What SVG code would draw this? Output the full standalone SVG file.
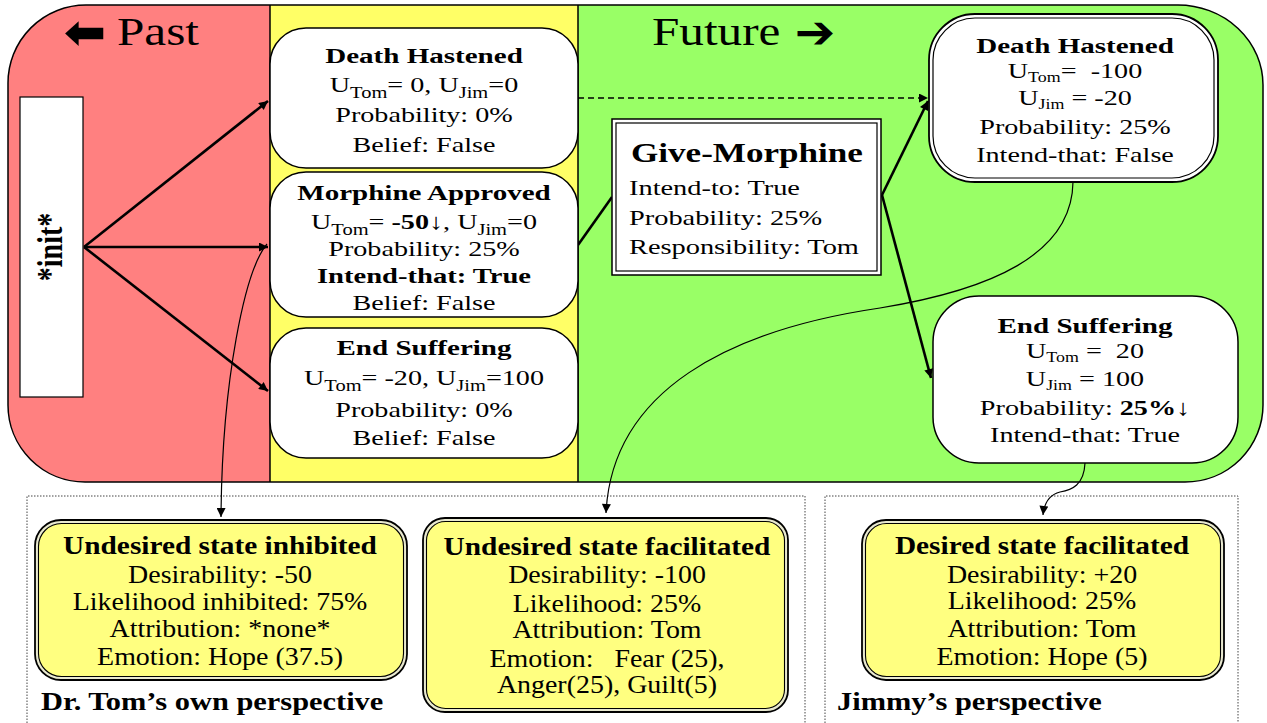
<svg xmlns="http://www.w3.org/2000/svg" width="1267" height="723" viewBox="0 0 1267 723">
<style>
.t{font-family:"Liberation Serif","Times New Roman",serif;font-size:22px;fill:#000;text-anchor:middle;white-space:pre}
.b{font-weight:bold}
.l{text-anchor:start}
.s{font-size:16px}
.s2{font-size:14px}
.e{font-size:24.5px}
.eb{font-size:25.5px;font-weight:bold}
.big{font-size:41px;text-anchor:start}
.arr{font-family:"DejaVu Sans",sans-serif;font-size:46px;font-weight:bold}
.node{fill:#fff;stroke:#000;stroke-width:1.5}
.thick{fill:none;stroke:#000;stroke-width:2.6}
.thin{fill:none;stroke:#000;stroke-width:1.2}
.dot{fill:none;stroke:#444;stroke-width:1;stroke-dasharray:1.5 1.5}
.emo-o{fill:#e9e9d0;stroke:#000;stroke-width:1.8}
.emo-i{fill:#FFFF80;stroke:#000;stroke-width:1.1}
</style>
<defs>
<marker id="ah" viewBox="0 0 10 10" refX="10" refY="5" markerWidth="13" markerHeight="9" markerUnits="userSpaceOnUse" orient="auto"><path d="M0,0 L10,5 L0,10 z" fill="#000"/></marker>
<marker id="as" viewBox="0 0 10 10" refX="10" refY="5" markerWidth="10" markerHeight="9" markerUnits="userSpaceOnUse" orient="auto"><path d="M0,0 L10,5 L0,10 z" fill="#000"/></marker>
</defs>
<rect width="1267" height="723" fill="#fff"/>
<g id="background">
<path d="M86,5 L270,5 L270,482 L85,482 A77,77 0 0 1 8,405 L8,83 A78,78 0 0 1 86,5 Z" fill="#FF8080"/>
<rect x="270" y="5" width="308" height="477" fill="#FFFF66"/>
<path d="M578,5 L1178,5 A85,80 0 0 1 1263,85 L1263,405 A78,77 0 0 1 1185,482 L578,482 Z" fill="#99FF66"/>
<path d="M86,5 L1178,5 A85,80 0 0 1 1263,85 L1263,405 A78,77 0 0 1 1185,482 L85,482 A77,77 0 0 1 8,405 L8,83 A78,78 0 0 1 86,5 Z" fill="none" stroke="#000" stroke-width="1.5"/>
<line x1="270" y1="5" x2="270" y2="482" stroke="#000" stroke-width="1.5"/>
<line x1="578" y1="5" x2="578" y2="482" stroke="#000" stroke-width="1.5"/>
<text class="t arr" transform="translate(85,48) scale(1.1,1)">⬅</text>
<text class="t big" transform="translate(117,45) scale(1.2,1)">Past</text>
<text class="t big" transform="translate(652,45) scale(1.2,1)">Future</text>
<text class="t arr" transform="translate(815,48) scale(1.05,1)">➔</text>
<path class="dot" d="M27,723 L27,496 L805,496 L805,723"/>
<path class="dot" d="M825,723 L825,496 L1238,496 L1238,723"/>
</g>
<g id="init">
<rect x="20" y="97" width="63" height="300" fill="#fff" stroke="#000" stroke-width="1.2"/>
<text class="t b" style="font-size:28px" transform="translate(62,247) scale(1.3,1) rotate(-90)">*init*</text>
</g>
<g id="connectors">
<path class="thick" d="M84,247 L268,101" marker-end="url(#ah)"/>
<path class="thick" d="M84,247 L268,247" marker-end="url(#ah)"/>
<path class="thick" d="M84,247 L268,391" marker-end="url(#ah)"/>
<path class="thick" d="M578,245 L612,197"/>
<path class="thick" d="M882,195 L928,101" marker-end="url(#ah)"/>
<path class="thick" d="M882,195 L931,378" marker-end="url(#ah)"/>
<path d="M578,98 L928,98" fill="none" stroke="#000" stroke-width="1.3" stroke-dasharray="6 4" marker-end="url(#as)"/>
<path class="thin" d="M267,244 C245,270 222,380 221,517" marker-end="url(#as)"/>
<path class="thin" d="M1073,182 C1072,255 990,290 880,308 C730,330 612,390 606,513" marker-end="url(#as)"/>
<path class="thin" d="M1085,463 C1084,485 1072,490 1060,492 C1048,495 1044,505 1043,515" marker-end="url(#as)"/>
</g>
<g id="past-death-hastened">
<rect class="node" x="270" y="28" width="308" height="140" rx="36"/>
<text class="t b" transform="translate(424,63) scale(1.32,1)">Death Hastened</text>
<text class="t" transform="translate(424,92) scale(1.28,1)">U<tspan class="s" dy="6">Tom</tspan><tspan dy="-6">= 0, U</tspan><tspan class="s" dy="6">Jim</tspan><tspan dy="-6">=0</tspan></text>
<text class="t" transform="translate(424,122) scale(1.28,1)">Probability: 0%</text>
<text class="t" transform="translate(424,152) scale(1.28,1)">Belief: False</text>
</g>
<g id="past-morphine-approved">
<rect class="node" x="270" y="172" width="308" height="145" rx="36"/>
<text class="t b" transform="translate(424,200) scale(1.32,1)">Morphine Approved</text>
<text class="t" transform="translate(424,229) scale(1.28,1)">U<tspan class="s" dy="6">Tom</tspan><tspan dy="-6">= </tspan><tspan class="b">-50</tspan>↓, U<tspan class="s" dy="6">Jim</tspan><tspan dy="-6">=0</tspan></text>
<text class="t" transform="translate(424,256) scale(1.28,1)">Probability: 25%</text>
<text class="t b" transform="translate(424,283) scale(1.3,1)">Intend-that: True</text>
<text class="t" transform="translate(424,310) scale(1.28,1)">Belief: False</text>
</g>
<g id="past-end-suffering">
<rect class="node" x="270" y="328" width="308" height="130" rx="36"/>
<text class="t b" transform="translate(424,355) scale(1.32,1)">End Suffering</text>
<text class="t" transform="translate(424,385) scale(1.28,1)">U<tspan class="s" dy="6">Tom</tspan><tspan dy="-6">= -20, U</tspan><tspan class="s" dy="6">Jim</tspan><tspan dy="-6">=100</tspan></text>
<text class="t" transform="translate(424,417) scale(1.28,1)">Probability: 0%</text>
<text class="t" transform="translate(424,445) scale(1.28,1)">Belief: False</text>
</g>
<g id="give-morphine">
<rect x="612" y="119" width="269" height="156" fill="#fff" stroke="#000" stroke-width="1.5"/>
<rect x="616" y="123" width="261" height="148" fill="none" stroke="#000" stroke-width="1.2"/>
<text class="t b l" style="font-size:27px" transform="translate(631,162) scale(1.3,1)">Give-Morphine</text>
<text class="t l" transform="translate(629,195) scale(1.29,1)">Intend-to: True</text>
<text class="t l" transform="translate(629,225) scale(1.29,1)">Probability: 25%</text>
<text class="t l" transform="translate(629,254) scale(1.29,1)">Responsibility: Tom</text>
</g>
<g id="future-death-hastened">
<rect x="929" y="14" width="289" height="168" rx="46" fill="#fff" stroke="#000" stroke-width="1.8"/>
<rect x="933" y="18" width="281" height="160" rx="42" fill="none" stroke="#000" stroke-width="1.2"/>
<text class="t b" transform="translate(1075,53) scale(1.32,1)">Death Hastened</text>
<text class="t" transform="translate(1075,78) scale(1.28,1)">U<tspan class="s2" dy="4">Tom</tspan><tspan dy="-4">=  -100</tspan></text>
<text class="t" transform="translate(1075,105) scale(1.28,1)">U<tspan class="s2" dy="4">Jim</tspan><tspan dy="-4"> = -20</tspan></text>
<text class="t" transform="translate(1075,134) scale(1.28,1)">Probability: 25%</text>
<text class="t" transform="translate(1075,162) scale(1.28,1)">Intend-that: False</text>
</g>
<g id="future-end-suffering">
<rect class="node" x="933" y="296" width="305" height="167" rx="46"/>
<text class="t b" transform="translate(1085,333) scale(1.32,1)">End Suffering</text>
<text class="t" transform="translate(1085,358) scale(1.28,1)">U<tspan class="s2" dy="4">Tom</tspan><tspan dy="-4"> =  20</tspan></text>
<text class="t" transform="translate(1085,386) scale(1.28,1)">U<tspan class="s2" dy="4">Jim</tspan><tspan dy="-4"> = 100</tspan></text>
<text class="t" transform="translate(1085,415) scale(1.28,1)">Probability: <tspan class="b">25%</tspan>↓</text>
<text class="t" transform="translate(1085,442) scale(1.28,1)">Intend-that: True</text>
</g>
<g id="undesired-state-inhibited">
<rect class="emo-o" x="35" y="520" width="372" height="160" rx="26"/>
<rect class="emo-i" x="38.5" y="523.5" width="365" height="153" rx="23"/>
<text class="t eb" transform="translate(220,554) scale(1.15,1)">Undesired state inhibited</text>
<text class="t e" transform="translate(220,583) scale(1.14,1)">Desirability: -50</text>
<text class="t e" transform="translate(220,610) scale(1.14,1)">Likelihood inhibited: 75%</text>
<text class="t e" transform="translate(220,637) scale(1.14,1)">Attribution: *none*</text>
<text class="t e" transform="translate(220,665) scale(1.14,1)">Emotion: Hope (37.5)</text>
</g>
<g id="undesired-state-facilitated">
<rect class="emo-o" x="423" y="518" width="365" height="194" rx="22"/>
<rect class="emo-i" x="426.5" y="521.5" width="358" height="187" rx="19"/>
<text class="t eb" transform="translate(607,555) scale(1.15,1)">Undesired state facilitated</text>
<text class="t e" transform="translate(607,583) scale(1.14,1)">Desirability: -100</text>
<text class="t e" transform="translate(607,612) scale(1.14,1)">Likelihood: 25%</text>
<text class="t e" transform="translate(607,638) scale(1.14,1)">Attribution: Tom</text>
<text class="t e" transform="translate(607,667) scale(1.14,1)">Emotion:   Fear (25),</text>
<text class="t e" transform="translate(607,693) scale(1.14,1)">Anger(25), Guilt(5)</text>
</g>
<g id="desired-state-facilitated">
<rect class="emo-o" x="862" y="520" width="362" height="160" rx="24"/>
<rect class="emo-i" x="865.5" y="523.5" width="355" height="153" rx="21"/>
<text class="t eb" transform="translate(1042,554) scale(1.15,1)">Desired state facilitated</text>
<text class="t e" transform="translate(1042,583) scale(1.14,1)">Desirability: +20</text>
<text class="t e" transform="translate(1042,609) scale(1.14,1)">Likelihood: 25%</text>
<text class="t e" transform="translate(1042,637) scale(1.14,1)">Attribution: Tom</text>
<text class="t e" transform="translate(1042,665) scale(1.14,1)">Emotion: Hope (5)</text>
</g>
<g id="perspective-labels">
<text class="t b l" style="font-size:26px" transform="translate(41,710) scale(1.17,1)">Dr. Tom’s own perspective</text>
<text class="t b l" style="font-size:26px" transform="translate(837,710) scale(1.17,1)">Jimmy’s perspective</text>
</g>
</svg>
